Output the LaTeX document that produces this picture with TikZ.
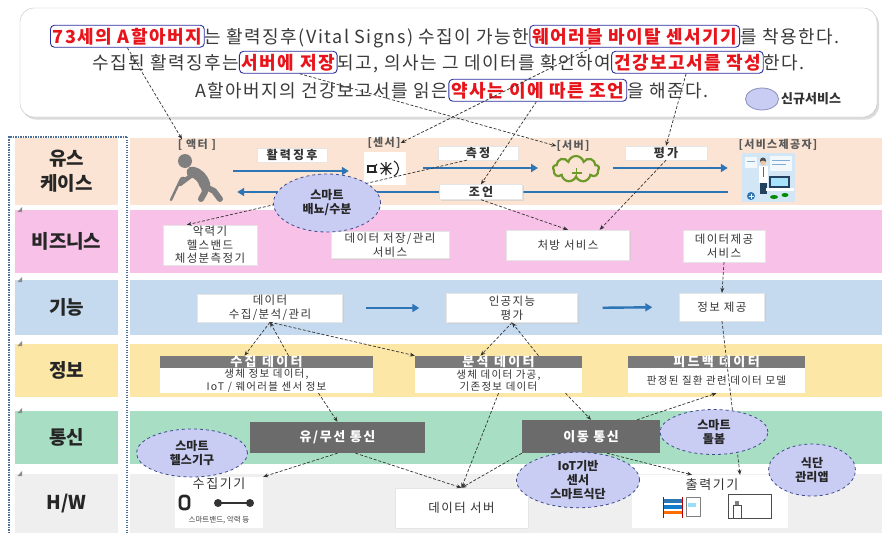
\documentclass[tikz,border=0pt]{standalone}
\usepackage{fontspec}
\setmainfont{Noto Sans CJK KR}
\newfontfamily\spacedfont[LetterSpace=18]{Noto Sans CJK KR}
\newfontfamily\topfont[LetterSpace=8]{Noto Sans CJK KR}
\newfontfamily\boxfont[LetterSpace=12]{Noto Sans CJK KR}
\usetikzlibrary{shapes.geometric,shapes.symbols,arrows.meta,shadows}

\definecolor{ink}{HTML}{3A3A3A}
\definecolor{hlred}{HTML}{E8141B}
\definecolor{hlblue}{HTML}{2B2F9E}
\definecolor{ucband}{HTML}{FBE4D3}
\definecolor{bzband}{HTML}{F8C1E7}
\definecolor{fnband}{HTML}{C5DAEF}
\definecolor{inband}{HTML}{FCE7A6}
\definecolor{cmband}{HTML}{A8DFC4}
\definecolor{hwband}{HTML}{EFEFEF}
\definecolor{flowblue}{HTML}{2E75B6}
\definecolor{svcfill}{HTML}{C9CCF3}
\definecolor{svcline}{HTML}{3F4A8A}
\definecolor{hdrgray}{HTML}{7A7A7A}
\definecolor{boxgray}{HTML}{6B6B6B}
\definecolor{frameblue}{HTML}{4A6E9A}
\definecolor{cloudgreen}{HTML}{6E9A2A}
\definecolor{figgray}{HTML}{7F7F7F}
\definecolor{provbg}{HTML}{D3E6F6}
\definecolor{navy}{HTML}{23405F}
\definecolor{skin}{HTML}{F1C7A0}

\pgfdeclarelayer{bands}
\pgfdeclarelayer{flows}
\pgfdeclarelayer{lines}
\pgfdeclarelayer{front}
\pgfsetlayers{bands,flows,main,lines,front}

\newcommand\fsz[2]{\fontsize{#1}{#2}\selectfont}

\begin{document}
\begin{tikzpicture}[x=1pt,y=-1pt,
  soft/.style={drop shadow={shadow xshift=1.4pt,shadow yshift=-1.4pt,fill=black!22}},
  txt/.style={inner sep=0pt,anchor=base west,text=ink,font=\topfont\fsz{18}{20}},
  hl/.style={draw=hlblue,rounded corners=4pt,line width=0.9pt,inner xsep=2.5pt,inner ysep=2.5pt,
    anchor=base west,text=hlred,font=\topfont\bfseries\fsz{18}{20}},
  rowlbl/.style={font=\bfseries\fsz{19}{25},text=black!85,align=center},
  lab/.style={font=\boxfont\bfseries\fsz{11}{13},text=black!65,inner sep=0pt},
  tag/.style={soft,fill=white,draw=black!10,minimum height=14pt,inner sep=0pt,
    font=\spacedfont\bfseries\fsz{12}{14},text=black!80},
  wbox/.style={soft,fill=white,draw=black!10,align=center,inner sep=0pt,
    font=\boxfont\fsz{11.5}{13.5},text=black!80},
  hdr/.style={fill=hdrgray,text=white,inner sep=0pt,font=\spacedfont\bfseries\fsz{13}{13}},
  body/.style={fill=white,align=center,inner sep=0pt,font=\boxfont\fsz{10.5}{12.5},text=black!80},
  dark/.style={fill=boxgray,text=white,inner sep=0pt,font=\boxfont\bfseries\fsz{13}{15}},
  svc/.style={ellipse,fill=svcfill,draw=svcline,dashed,line width=0.8pt,align=center,
    inner sep=0pt,font=\bfseries\fsz{12}{14},text=black!85},
  flow/.style={draw=flowblue,line width=2.4pt,-{Triangle[length=7pt,width=8pt]}},
  link/.style={draw=black!80,line width=0.7pt,dash pattern=on 3pt off 1.8pt,
    -{Stealth[length=5pt,width=4pt]}},
]
\useasboundingbox (0,0) rectangle (884,533);

% ---------- layer bands ----------
\begin{pgfonlayer}{bands}
  \fill[white] (0,0) rectangle (884,533);
  \fill[ucband] (15,138) rectangle (118,205);  \fill[ucband] (130,138) rectangle (882,205);
  \fill[bzband] (15,210) rectangle (118,273);  \fill[bzband] (130,210) rectangle (882,273);
  \fill[fnband] (15,280) rectangle (118,335);  \fill[fnband] (130,280) rectangle (882,335);
  \fill[inband] (15,344) rectangle (118,397);  \fill[inband] (130,344) rectangle (882,397);
  \fill[cmband] (15,411) rectangle (118,464);  \fill[cmband] (130,411) rectangle (882,464);
  \fill[hwband] (15,474) rectangle (118,533);  \fill[hwband] (130,474) rectangle (882,533);
  % small corner markers of the label column
  \foreach \t in {210,280,344,411,474}
    \fill[black!45] (17.5,\t+2) -- (22,\t-3) -- (22,\t+2) -- cycle;
  % dotted frame around the label column
  \draw[frameblue,line width=1.3pt,dash pattern=on 1.2pt off 1.3pt] (9,533) -- (9,137) -- (127,137);
  \draw[frameblue,line width=2.2pt,dash pattern=on 1.2pt off 1.3pt] (127,137) -- (127,533);
\end{pgfonlayer}

% ---------- row labels ----------
\node[rowlbl] (rUC) at (66.5,171.5) {유스\\케이스};
\node[rowlbl] (rBZ) at (66.5,241.5) {비즈니스};
\node[rowlbl] (rFN) at (66.5,307.5) {기능};
\node[rowlbl] (rIN) at (66.5,370.5) {정보};
\node[rowlbl] (rCM) at (66.5,437.5) {통신};
\node[rowlbl] (rHW) at (66.5,503.5) {H/W};

% ---------- scenario box ----------
\node[draw=black!25,fill=white,rounded corners=14pt,minimum width=857pt,minimum height=109pt,
  drop shadow={shadow xshift=2pt,shadow yshift=-2.5pt,fill=black!28}] (top) at (448.5,62.5) {};

\node[hl]  (h1) at (50,43) {73세의 A할아버지};
\node[txt] (t1) at (h1.base east) {는 활력징후(Vital Signs) 수집이 가능한\ };
\node[hl]  (h2) at (t1.base east) {웨어러블 바이탈 센서기기};
\node[txt] (t2) at (h2.base east) {를 착용한다.};

\node[txt] (t3) at (92,69) {수집된 활력징후는\ };
\node[hl]  (h3) at (t3.base east) {서버에 저장};
\node[txt] (t4) at (h3.base east) {되고, 의사는 그 데이터를 확인하여\ };
\node[hl]  (h4) at (t4.base east) {건강보고서를 작성};
\node[txt] (t5) at (h4.base east) {한다.};

\node[txt] (t6) at (195,97) {A할아버지의 건강보고서를 읽은\ };
\node[hl]  (h5) at (t6.base east) {약사는 이에 따른 조언};
\node[txt] (t7) at (h5.base east) {을 해준다.};

\node[svc,solid,draw=svcline!60,minimum width=33pt,minimum height=22pt] (leg) at (762,99) {};
\node[anchor=west,inner sep=0pt,font=\bfseries\fsz{13}{15},text=black!80] (legt) at (781,99) {신규서비스};

% ---------- use case row ----------
\node[lab] (alab) at (197,145) {[ 액터 ]};
\node[minimum width=56pt,minimum height=44pt,inner sep=0pt] (actor) at (198,171) {};
\begin{scope}[figgray,line cap=round,line join=round]
  \fill (185,161) circle (7pt);
  \draw[line width=11pt] (192,172) .. controls (198,173) and (203,178) .. (205,185);
  \draw[line width=4.5pt] (192,175) -- (180,184);
  \draw[line width=2.4pt] (180,181) -- (171,200);
  \draw[line width=2.4pt] (180,181) .. controls (181,177) and (185,177) .. (185,180);
  \draw[line width=6pt] (204,187) -- (205,192) -- (201,199);
  \draw[line width=6pt] (206,187) -- (214,191) -- (220,199);
\end{scope}

\node[tag,minimum width=70pt] (tg1) at (292,155) {활력징후};

\node[lab] (slab) at (384,143) {[센서]};
\node[fill=white,minimum width=42pt,minimum height=33pt,inner sep=0pt] (sens) at (385,168) {};
\begin{scope}[black!85,line width=1.1pt]
  \draw (368,166) rectangle (375,172);
  \draw (377,164) arc (-60:60:-5pt);
  \draw (381,163) -- (391,174) (391,163) -- (381,174) (386,162) -- (386,175) (380,168.5) -- (392,168.5);
  \draw (394,161) .. controls (400,165) and (400,172) .. (394,176);
\end{scope}

\node[tag,minimum width=80pt] (tg2) at (478,153) {측정};

\node[lab] (vlab) at (573,146) {[서버]};
\node[cloud,cloud puffs=9,aspect=1.7,draw=cloudgreen,line width=2.2pt,
  minimum width=46pt,minimum height=26pt,inner sep=0pt] (srv) at (576,169) {};
\draw[cloudgreen,line width=1.7pt] (576.5,168) -- (576.5,178) (571.5,173) -- (581.5,173);

\node[tag,minimum width=82pt] (tg3) at (666,153) {평가};

\node[lab] (plab) at (778,145) {[서비스제공자]};
\node[fill=provbg,minimum width=53pt,minimum height=49pt,inner sep=0pt] (prov) at (768.5,177.5) {};
\begin{scope}
  \fill[white!70!provbg] (745,157) rectangle (757,168);
  \fill[white!70!provbg] (770,156) rectangle (792,171);
  \draw[flowblue!60,line width=.6pt] (772,160) -- (790,160) (772,164) -- (786,164) (747,161) -- (755,161);
  \fill[black!70] (763,160.5) circle (3pt);
  \fill[skin] (763,163) circle (2.4pt);
  \fill[white] (758.5,166) rectangle (767.5,183);
  \fill[flowblue] (762.5,167) rectangle (763.5,177);
  \fill[navy] (759.5,183) rectangle (766.5,194);
  \fill[navy] (769,176) rectangle (790,188);
  \fill[cyan!35] (771,178) rectangle (788,186);
  \fill[white] (766,188) rectangle (794,191);
  \fill[flowblue] (751,196) circle (4pt);
  \draw[white,line width=1pt] (751,193.5) -- (751,198.5) (748.5,196) -- (753.5,196);
  \fill[green!55!black] (774,197) ellipse (4pt and 2pt);
  \fill[green!55!black] (785,195) ellipse (3.5pt and 2pt);
\end{scope}

\node[tag,minimum width=83pt,minimum height=15pt] (tg4) at (481,192) {조언};

\begin{pgfonlayer}{flows}
  \draw[flow,shorten <=7pt,shorten >=15pt] (actor.east) -- (actor.east -| sens.west);
  \draw[flow,shorten <=17pt,shorten >=14pt] (sens.east) -- (sens.east -| srv.west);
  \draw[flow,shorten <=13pt,shorten >=14pt] (srv.east |- sens.east) -- (sens.east -| prov.west);
  \draw[flow,shorten <=14pt,shorten >=11pt] (tg4.center -| prov.west) -- (tg4.center -| actor.east);
\end{pgfonlayer}

% ---------- business row ----------
\node[wbox,minimum width=94pt,minimum height=40pt] (biz1) at (210,245) {악력기\\헬스밴드\\체성분측정기};
\node[wbox,minimum width=118pt,minimum height=27pt] (biz2) at (390,245) {데이터 저장/관리\\서비스};
\node[wbox,minimum width=123pt,minimum height=30pt] (biz3) at (568,245) {처방 서비스};
\node[wbox,minimum width=82pt,minimum height=32pt] (biz4) at (724,246) {데이터제공\\서비스};

% ---------- function row ----------
\node[wbox,minimum width=145pt,minimum height=28pt] (fn1) at (270,308) {데이터\\수집/분석/관리};
\node[wbox,minimum width=131pt,minimum height=29pt] (fn2) at (512,308) {인공지능\\평가};
\node[wbox,minimum width=85pt,minimum height=28pt] (fn3) at (722,307) {정보 제공};
\begin{pgfonlayer}{flows}
  \draw[flow,shorten <=23pt,shorten >=27pt] (fn1.east) -- (fn2.west);
  \draw[flow,shorten <=25pt,shorten >=27pt] (fn2.east) -- (fn3.west);
\end{pgfonlayer}

% ---------- information row ----------
\node[hdr,minimum width=213pt,minimum height=12pt] (ih1) at (266.5,362) {수집 데이터};
\node[body,minimum width=213pt,minimum height=25pt] (ib1) at (266.5,380.5) {생체 정보 데이터,\\IoT / 웨어러블 센서 정보};
\node[hdr,minimum width=167pt,minimum height=12pt] (ih2) at (498.5,362) {분석 데이터};
\node[body,minimum width=167pt,minimum height=25pt] (ib2) at (498.5,380.5) {생체 데이터 가공,\\기존정보 데이터};
\node[hdr,minimum width=177pt,minimum height=12pt] (ih3) at (716.5,362) {피드백 데이터};
\node[body,minimum width=177pt,minimum height=25pt] (ib3) at (716.5,380.5) {판정된 질환 관련 데이터 모델};

% ---------- communication row ----------
\node[dark,minimum width=175pt,minimum height=31pt] (com1) at (337.5,437.5) {유/무선 통신};
\node[dark,minimum width=138pt,minimum height=33pt] (com2) at (591,436.5) {이동 통신};

% ---------- hardware row ----------
\node[fill=white,minimum width=88pt,minimum height=51pt,inner sep=0pt] (hw1) at (219,502.5) {};
\node[inner sep=0pt,font=\boxfont\fsz{13}{15},text=black!80] (hw1t) at (219,484) {수집기기};
\node[inner sep=0pt,font=\fsz{7.5}{9},text=black!75] (hw1c) at (219,520) {스마트밴드, 악력 등};
\draw[black!85,line width=2.6pt,rounded corners=3pt] (180,496) rectangle (189,509);
\fill[black!80] (218,503) circle (4pt);
\fill[black!80] (250,503) circle (4pt);
\draw[black!80,line width=1.6pt] (218,503) -- (250,503);

\node[wbox,minimum width=133pt,minimum height=40pt,font=\boxfont\fsz{12.5}{14}] (hw2) at (461.5,508) {데이터 서버};

\node[fill=white,minimum width=156pt,minimum height=53pt,inner sep=0pt] (hw3) at (710,501.5) {};
\node[inner sep=0pt,font=\boxfont\fsz{13}{15},text=black!80] (hw3t) at (712,485) {출력기기};
\fill[flowblue] (663,499) rectangle (682,503);
\fill[cyan!60!blue] (663,505) rectangle (682,509);
\fill[orange!85!red] (663,511) rectangle (682,514);
\draw[red!70!black,line width=.8pt] (663,497) -- (663,518) (682,497) -- (682,518);
\draw[black!50,line width=.6pt] (686,497) rectangle (700,516);
\fill[cyan!40] (688,503) rectangle (696,507);
\draw[black!70,line width=.8pt] (728,494) rectangle (771,518);
\draw[black!70,line width=.8pt] (733,505) rectangle (741,518);
\fill[black!50] (735,501) rectangle (739,505);

% ---------- dashed relations ----------
\begin{pgfonlayer}{lines}
  \draw[link] (h1.south) -- ([xshift=-15pt]alab.north);
  \draw[link] ([xshift=62pt]h2.south west) -- (slab.east);
  \draw[link] ([xshift=-38pt]h3.south east) -- (vlab.west);
  \draw[link] ([xshift=75pt]h4.south west) -- (tg3.north);
  \draw[link] (tg3.south) -- ([xshift=-30pt]biz3.north east);
  \draw[link] ([xshift=88pt]h5.south west) -- (tg4.north);
  \draw[link] ([xshift=29pt]tg2.south west) -- ([xshift=24pt]biz1.north west);
  \draw[link] (tg4.south) -- (biz3.north);
  \draw[link] (biz4.south) -- (fn3.north);
  \draw[link] (fn1.south) -- ([xshift=-22pt]ih1.north);
  \draw[link] ([xshift=22pt]ih1.north) -- (fn1.south);
  \draw[link] (fn1.south) -- (ih2.north west);
  \draw[link] (fn2.south) -- ([xshift=-18pt]ih2.north);
  \draw[link] ([xshift=40pt]ih2.north) -- (fn2.south);
  \draw[link] (fn3.south) -- ([xshift=30pt]hw3.north);
  \draw[link] ([xshift=52pt]ib1.south) -- (com1.north);
  \draw[link] (com1.south) -- (hw1.north east);
  \draw[link] ([xshift=18pt]com1.south) -- (hw2.north);
  \draw[link] (ib2.south) -- (hw2.north);
  \draw[link] (com2.south west) -- (hw2.north);
  \draw[link] ([xshift=67pt]ib2.south) -- (com2.north);
  \draw[link] ([xshift=46pt]com2.north) -- (ib3.south);
  \draw[link] ([xshift=16pt]com2.south) -- ([xshift=-18pt]hw3.north);
\end{pgfonlayer}

% ---------- new services ----------
\begin{pgfonlayer}{front}
  \node[svc,minimum width=107pt,minimum height=58pt] (s1) at (327,203) {스마트\\배뇨/수분};
  \node[svc,minimum width=111pt,minimum height=48pt] (s2) at (192,453) {스마트\\헬스기구};
  \node[svc,minimum width=108pt,minimum height=45pt] (s3) at (714,432) {스마트\\돌봄};
  \node[svc,minimum width=123pt,minimum height=54pt] (s4) at (578,480) {IoT기반\\센서\\스마트식단};
  \node[svc,minimum width=87pt,minimum height=52pt] (s5) at (812,470) {식단\\관리앱};
\end{pgfonlayer}
\end{tikzpicture}
\end{document}
